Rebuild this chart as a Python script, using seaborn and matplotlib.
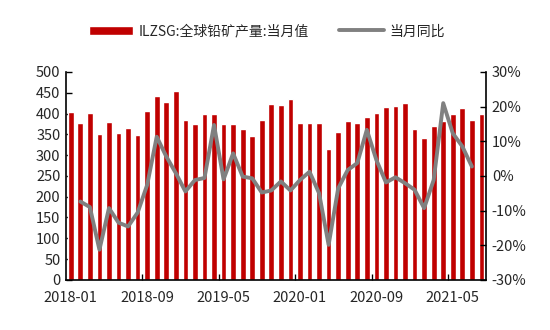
import numpy as np
import pandas as pd
import matplotlib
matplotlib.use("Agg")
import matplotlib.pyplot as plt
from matplotlib.ticker import FixedLocator, PercentFormatter
import seaborn as sns

# Monthly global lead ore output (ILZSG, kt) and its year-on-year change (%)
months = pd.period_range("2018-01", "2021-08", freq="M").strftime("%Y-%m").tolist()
output = [403, 378, 402, 350, 379, 353, 365, 348, 405, 443, 427, 454,
          385, 374, 399, 399, 374, 374, 362, 345, 385, 423, 420, 435,
          377, 377, 376, 315, 356, 383, 376, 391, 402, 415, 419, 426,
          362, 341, 369, 382, 400, 414, 385, 398]
yoy_months = months[1:43]
yoy = [-7.4, -9.0, -21.3, -9.3, -13.5, -14.6, -10.6, -2.6, 11.3, 5.6, 0.8,
       -4.5, -1.2, -0.6, 14.7, -1.0, 6.5, -0.2, -0.7, -4.8, -4.2, -1.6, -4.2,
       -1.2, 1.2, -5.0, -19.9, -3.6, 1.7, 3.7, 13.3, 4.6, -1.9, -0.4, -2.1,
       -4.0, -9.3, -1.2, 21.0, 12.3, 8.5, 2.7]
tick_labels = ["2018-01", "2018-09", "2019-05", "2020-01", "2020-09", "2021-05"]

bar_label = "ILZSG:全球铅矿产量:当月值"
line_label = "当月同比"

sns.set_theme(style="white")
plt.rcParams["font.family"] = ["Noto Sans CJK SC", "DejaVu Sans"]
plt.rcParams["axes.unicode_minus"] = False

fig = plt.figure(figsize=(5.5, 3.3), dpi=100)
ax = fig.add_axes([0.12, 0.152, 0.764, 0.63])

bars = pd.DataFrame({"month": months, "value": output})
sns.barplot(data=bars, x="month", y="value", color="#C00000", saturation=1,
            width=0.6, ax=ax, label=bar_label)

pos = {m: i for i, m in enumerate(months)}
line = pd.DataFrame({"x": [pos[m] for m in yoy_months], "yoy": yoy})
ax2 = ax.twinx()
sns.lineplot(data=line, x="x", y="yoy", color="#808080", linewidth=2.8,
             ax=ax2, label=line_label)

ax.set_xlim(-0.5, len(months) - 0.5)
ax.set_ylim(0, 500)
ax.set_yticks(np.arange(0, 501, 50))
ax2.set_ylim(-30, 30)
ax2.set_yticks(np.arange(-30, 31, 10))
ax2.yaxis.set_major_formatter(PercentFormatter(decimals=0))

label_pos = [pos[t] for t in tick_labels]
ax.set_xticks(label_pos)
ax.set_xticklabels(tick_labels)
ax.xaxis.set_minor_locator(FixedLocator([p - 0.5 for p in label_pos[1:]]))
ax.tick_params(axis="x", which="major", length=0, pad=8, labelsize=10.5)
ax.tick_params(axis="x", which="minor", direction="in", length=4, width=1,
               color="black", bottom=True)
ax.tick_params(axis="y", direction="in", length=4, width=1, color="black",
               left=True, labelsize=10.5, pad=4)
ax2.tick_params(axis="y", direction="in", length=4, width=1, color="black",
                right=True, labelsize=10.5, pad=4)

ax.set_xlabel("")
ax.set_ylabel("")
ax2.set_xlabel("")
ax2.set_ylabel("")
for a in (ax, ax2):
    a.spines["top"].set_visible(False)
    for s in ("left", "right", "bottom"):
        a.spines[s].set_color("black")
        a.spines[s].set_linewidth(1.2)
ax.spines["right"].set_visible(False)
ax2.spines["left"].set_visible(False)
ax2.spines["bottom"].set_visible(False)

h1, l1 = ax.get_legend_handles_labels()
h2, l2 = ax2.get_legend_handles_labels()
if ax.get_legend():
    ax.get_legend().remove()
if ax2.get_legend():
    ax2.get_legend().remove()
fig.legend(h1 + h2, l1 + l2, loc="center", bbox_to_anchor=(0.485, 0.905),
           ncol=2, frameon=False, fontsize=10, handlelength=3.2,
           handleheight=0.7, columnspacing=2.2, handletextpad=0.4)

fig.savefig("out.png", dpi=100)
